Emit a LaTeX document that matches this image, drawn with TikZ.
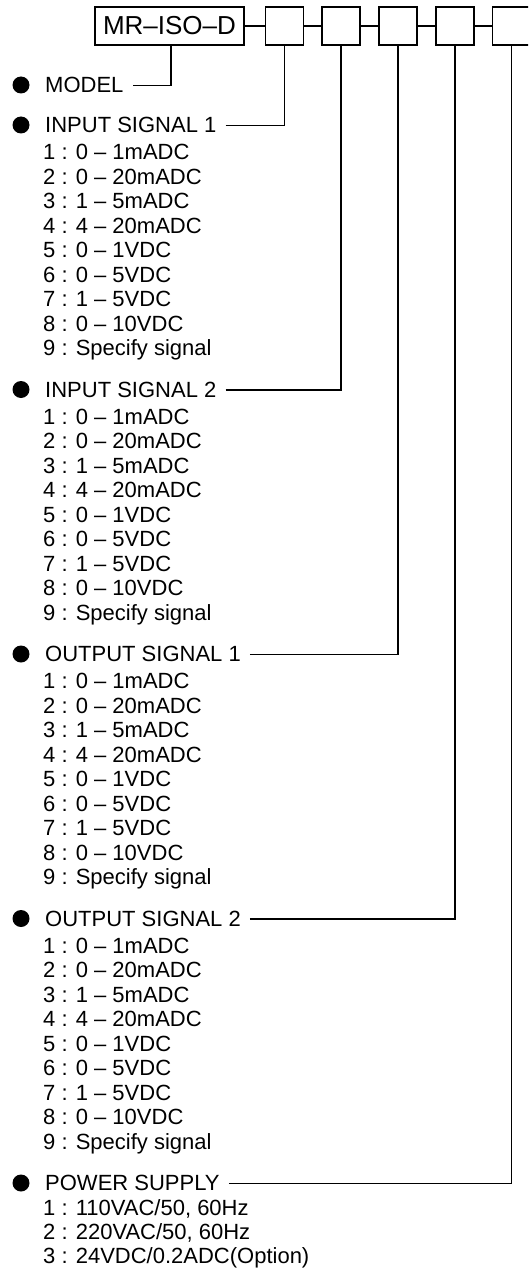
\documentclass[tikz,border=0pt]{standalone}
\usepackage{fontspec}
\setmainfont{Liberation Sans}
\tikzset{
  ln/.style={line width=1.6pt},
  bx/.style={draw, line width=1.6pt, minimum size=38pt, inner sep=0pt},
  mbox/.style={draw, line width=1.6pt, minimum width=149pt, minimum height=38pt, inner sep=0pt, font=\fontsize{26}{30}\selectfont},
  hd/.style={anchor=base west, inner sep=0pt, font=\fontsize{22}{24}\selectfont},
  itm/.style={anchor=base west, inner sep=0pt, font=\fontsize{22}{24}\selectfont},
  dot/.style={circle, fill=black, minimum size=17pt, inner sep=0pt},
}
\begin{document}
\begin{tikzpicture}[x=1pt,y=-1pt]
\useasboundingbox (0,0) rectangle (528,1271);
\clip (0,0) rectangle (528,1271);
% top code row
\node[mbox] (mb) at (169.5,26) {MR–ISO–D};
\node[bx] (b1) at (284.5,26) {};
\node[bx] (b2) at (341,26) {};
\node[bx] (b3) at (398,26) {};
\node[bx] (b4) at (455,26) {};
\node[bx] (b5) at (511.5,26) {};
\draw[ln] (mb.east) -- (b1.west);
\draw[ln] (b1.east) -- (b2.west);
\draw[ln] (b2.east) -- (b3.west);
\draw[ln] (b3.east) -- (b4.west);
\draw[ln] (b4.east) -- (b5.west);
% model
\node[dot] (d0) at (21,85) {};
\node[hd] (h0) at (45,92.9) {MODEL};
\draw[ln] ([xshift=1.5pt]mb.south) |- ([xshift=9pt]h0.east);
% signal blocks
\foreach \b/\lab in {1/{INPUT SIGNAL 1},2/{INPUT SIGNAL 2},3/{OUTPUT SIGNAL 1},4/{OUTPUT SIGNAL 2}}{
  \pgfmathsetmacro\hy{125+264.5*(\b-1)}
  \node[dot] (d\b) at (21,\hy) {};
  \node[hd] (h\b) at (45,\hy+7.9) {\lab};
  \draw[ln] ([xshift=9pt]h\b.east) -| (b\b.south);
  \foreach \k/\t in {1/{0 – 1mADC},2/{0 – 20mADC},3/{1 – 5mADC},4/{4 – 20mADC},5/{0 – 1VDC},6/{0 – 5VDC},7/{1 – 5VDC},8/{0 – 10VDC},9/{Specify signal}}{
    \node[itm] (i\b-\k) at (43,\hy+27+24.5*\k-24.5+7.9) {\k{} : \t};
  }
}
% power supply
\node[dot] (d5) at (21,1183) {};
\node[hd] (h5) at (45,1190.9) {POWER SUPPLY};
\draw[ln] ([xshift=9pt]h5.east) -| (b5.south);
\node[itm] (p1) at (43,1215.9) {1 : 110VAC/50, 60Hz};
\node[itm] (p2) at (43,1239.9) {2 : 220VAC/50, 60Hz};
\node[itm] (p3) at (43,1263.9) {3 : 24VDC/0.2ADC(Option)};
\end{tikzpicture}
\end{document}
